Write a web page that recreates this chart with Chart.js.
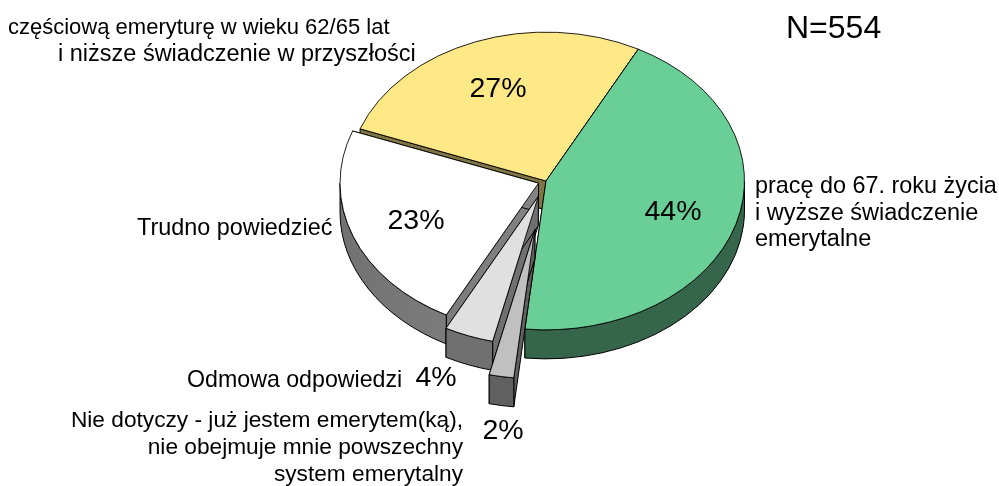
<!DOCTYPE html>
<html><head><meta charset="utf-8">
<style>html,body{margin:0;padding:0;background:#fff}canvas{display:block}</style>
<script src="https://cdn.jsdelivr.net/npm/chart.js@4"></script>
</head><body><canvas id="c" width="999" height="486"></canvas>
<script>
const categories=["pracę do 67. roku życia i wyższe świadczenie emerytalne","Nie dotyczy","Odmowa odpowiedzi","Trudno powiedzieć","częściową emeryturę w wieku 62/65 lat i niższe świadczenie w przyszłości"];
const values=[44,2,4,23,27];
const topColors=["#69CF96","#C0C0C0","#E0E0E0","#FFFFFF","#FFE987"];
const sideColors=[["#35664B","#35664B"],["#606060","#606060"],["#707070","#707070"],["#727272","#858585"],["#7F7443","#7F7443"]];
const explode=[0,66,22,8,0];
const paintOrder=[4,0,3,2,1];
const labels=[
 ["częściową emeryturę w wieku 62/65 lat",8,28,"l",22],
 ["i niższe świadczenie w przyszłości",58,55,"l",23.5],
 ["N=554",786,29,"l",32],
 ["pracę do 67. roku życia",755,187,"l",23.4],
 ["i wyższe świadczenie",755,214,"l",23.5],
 ["emerytalne",755,240,"l",23.5],
 ["Trudno powiedzieć",137,229,"l",23.4],
 ["Odmowa odpowiedzi",187,381,"l",23.2],
 ["Nie dotyczy - już jestem emerytem(ką),",463,421,"r",22.7],
 ["nie obejmuje mnie powszechny",463,448,"r",22.7],
 ["system emerytalny",463,475,"r",22.7],
];
const pctPositions=[[673,212],[503,431],[436,378],[416,221],[498,89]];
const CY=181,SQ=0.75,DEPTH=29;
const pie3d={id:'pie3d',
 beforeDatasetDraw(chart){
  const ctx=chart.ctx,arcs=chart.getDatasetMeta(0).data;
  for(const i of paintOrder){
   const a=arcs[i],r=a.outerRadius,s=a.startAngle,e=a.endAngle,m=(s+e)/2;
   const ox=Math.cos(m)*explode[i],oy=Math.sin(m)*explode[i]*SQ;
   const ax=a.x+ox,ay=CY+oy;
   const pt=t=>[ax+r*Math.cos(t),ay+r*SQ*Math.sin(t)];
   const grad=ctx.createLinearGradient(ax-r,0,ax+r*0.1,0);
   grad.addColorStop(0,sideColors[i][0]);grad.addColorStop(1,sideColors[i][1]);
   ctx.save();
   ctx.lineWidth=1;ctx.strokeStyle='#000';ctx.fillStyle=grad;ctx.lineJoin='round';
   for(const t of [s,e]){
    const p=pt(t);
    ctx.beginPath();ctx.moveTo(ax,ay);ctx.lineTo(p[0],p[1]);ctx.lineTo(p[0],p[1]+DEPTH);ctx.lineTo(ax,ay+DEPTH);ctx.closePath();
    ctx.fill();ctx.stroke();
   }
   const norm=x=>{while(x<0)x+=2*Math.PI;while(x>=2*Math.PI)x-=2*Math.PI;return x;};
   let s1=norm(s),e1=s1+(e-s),from=s1,to=e1;
   let ranges=[];
   if(from<Math.PI)ranges.push([from,Math.min(to,Math.PI)]);
   if(to>2*Math.PI)ranges.push([2*Math.PI,Math.min(to,3*Math.PI)]);
   for(const [u,v] of ranges){
    ctx.beginPath();ctx.ellipse(ax,ay,r,r*SQ,0,u,v,false);ctx.ellipse(ax,ay+DEPTH,r,r*SQ,0,v,u,true);ctx.closePath();
    ctx.fill();ctx.stroke();
   }
   ctx.translate(ox,CY+oy);ctx.scale(1,SQ);ctx.translate(0,-a.y);
   a.draw(ctx);
   ctx.restore();
  }
  return false;
 },
 afterDraw(chart){
  const ctx=chart.ctx;
  ctx.save();ctx.fillStyle='#000';ctx.textBaseline='middle';
  for(const [t,x,y,al,sz] of labels){
   ctx.font=sz+'px "Liberation Sans"';ctx.textAlign=al==='r'?'right':'left';ctx.fillText(t,x,y);
  }
  ctx.font='28.5px "Liberation Sans"';ctx.textAlign='center';
  values.forEach((v,i)=>ctx.fillText(v+'%',pctPositions[i][0],pctPositions[i][1]));
  ctx.restore();
 }
};
new Chart(document.getElementById('c'),{type:'pie',
 data:{labels:categories,datasets:[{data:values,backgroundColor:topColors,borderColor:'#000',borderWidth:1,borderAlign:'center'}]},
 options:{responsive:false,animation:false,rotation:27.7,
  layout:{padding:{left:347,right:254,top:44,bottom:44}},
  plugins:{legend:{display:false},tooltip:{enabled:false}}},
 plugins:[pie3d]});
</script></body></html>
